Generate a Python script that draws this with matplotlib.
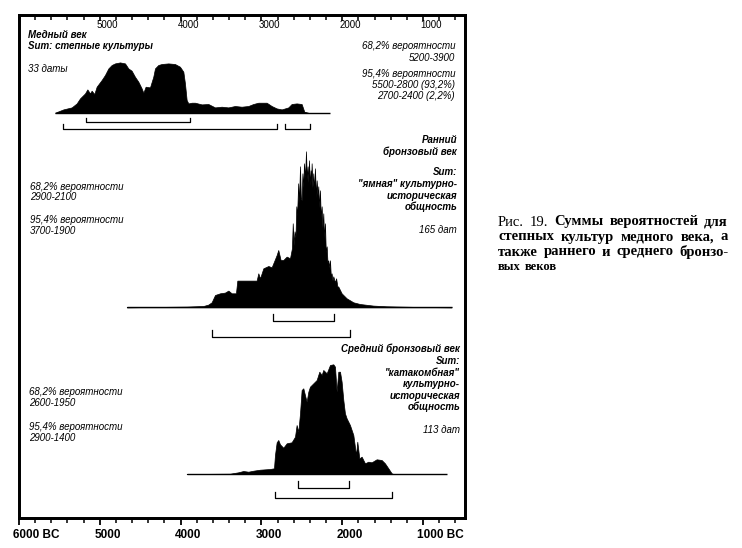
import matplotlib
matplotlib.use('Agg')
import matplotlib.pyplot as plt
from matplotlib.ticker import MultipleLocator
from matplotlib.transforms import ScaledTranslation

# ---------------- data (years BC, relative summed probability) ----------------
cu_years = [5554, 5451, 5348, 5286, 5245, 5183, 5154, 5121, 5101, 5068, 5039, 4977, 4936,
            4894, 4853, 4812, 4750, 4688, 4647, 4606, 4565, 4523, 4482, 4461, 4433, 4379,
            4338, 4317, 4276, 4234, 4152, 4070, 4008, 3966, 3946, 3925, 3904, 3863, 3822,
            3739, 3657, 3574, 3492, 3410, 3327, 3245, 3162, 3100, 3038, 2935, 2873, 2811,
            2749, 2667, 2626, 2564, 2502, 2469, 2420]
cu_prob = [0, 3.3, 5.3, 9.3, 14.3, 19.3, 23.3, 19.3, 22, 18.7, 26, 32.7, 37.7,
           44.3, 47.7, 49.3, 50.3, 49.3, 44.3, 42, 36, 31, 24.3, 20, 26, 25.3,
           36, 44.3, 47.7, 48.7, 49.3, 48.7, 46, 41, 29.3, 12.7, 9.3, 10, 10,
           8.3, 8.7, 5.3, 6, 5.3, 6.7, 6, 6.7, 8.7, 10, 10, 6.7, 4.3,
           3.3, 5.3, 8.7, 9.3, 8.7, 1, 0]
cu_line = [5560, 2150]

eba_years = [4667, 4338, 3925, 3719, 3657, 3616, 3574, 3512, 3451, 3409, 3368, 3315, 3298,
             3059, 3038, 3017, 2976, 2914, 2873, 2844, 2811, 2791, 2762, 2729, 2687, 2646,
             2622, 2612, 2600, 2590, 2578, 2568, 2558, 2545, 2535, 2522, 2512, 2502, 2492,
             2482, 2473, 2460, 2448, 2438, 2428, 2420, 2411, 2400, 2391, 2385, 2378, 2368,
             2358, 2348, 2337, 2325, 2316, 2305, 2296, 2285, 2275, 2265, 2254, 2244, 2234,
             2224, 2213, 2203, 2192, 2182, 2172, 2160, 2151, 2140, 2131, 2120, 2110, 2090,
             2075, 2060, 2048, 2007, 1945, 1862, 1780, 1615, 1450, 1037, 646]
eba_prob = [0, 0.3, 0.7, 1.3, 2.7, 5, 12.3, 14, 14.7, 16.7, 14, 14, 26.7,
            26.7, 34, 29, 39, 41.3, 40, 45.7, 52.3, 57.3, 47.3, 47.3, 50.7, 49,
            59, 84, 62, 76, 70, 101, 92, 124, 105, 141, 110, 107, 134,
            120, 144, 130, 156, 128, 141, 125, 147, 122, 137, 125, 144, 120,
            134, 118, 139, 110, 127, 112, 121, 100, 117, 90, 101, 80, 94,
            70, 84, 55, 61, 45, 47, 40, 47, 30, 34, 27, 31, 25,
            29, 21, 20.7, 14, 9, 5, 3.3, 1.7, 1, 0.3, 0]
eba_line = [4667, 640]

mba_years = [3925, 3389, 3286, 3224, 3162, 3100, 3017, 2894, 2844, 2832, 2811, 2791, 2770,
             2729, 2687, 2626, 2584, 2564, 2543, 2522, 2502, 2481, 2461, 2440, 2419, 2399,
             2357, 2316, 2283, 2254, 2234, 2192, 2151, 2110, 2089, 2069, 2048, 2027, 2007,
             1986, 1966, 1945, 1904, 1862, 1829, 1813, 1788, 1759, 1718, 1677, 1636, 1574,
             1512, 1471, 1429, 1388, 1367]
mba_prob = [0, 0.3, 1.7, 3, 2.3, 3.3, 4.3, 5, 5.7, 19, 31.7, 34, 29.7,
            26.3, 30.7, 31.7, 37.3, 49, 42.3, 60.7, 84, 85.7, 79, 72.3, 82.3, 87.3,
            90.7, 94, 102.3, 99, 104, 100.7, 109, 109.7, 107.3, 82.3, 102.3, 102.3, 92.3,
            74, 60.7, 55.7, 49, 39, 19, 32.3, 15.7, 17.3, 10.7, 12.3, 11.7, 14.7,
            14, 10.7, 5.7, 0.7, 0]
mba_line = [3920, 700]

# highest-probability ranges as drawn (68.2% and 95.4%)
cu_r68 = [(5170, 3880)]
cu_r95 = [(5460, 2805), (2710, 2400)]
eba_r68 = [(2861, 2102)]
eba_r95 = [(3616, 1904)]
mba_r68 = [(2550, 1910)]
mba_r95 = [(2830, 1385)]

bottom_ticks = [6000, 5000, 4000, 3000, 2000, 1000]
bottom_labels = ['6000 BC', '5000', '4000', '3000', '2000', '1000 BC']
top_ticks = [5000, 4000, 3000, 2000, 1000]
top_labels = ['5000', '4000', '3000', '2000', '1000']

# ---------------- figure ----------------
W, H = 742, 548
fig = plt.figure(figsize=(W / 100, H / 100), dpi=100)
fig.patch.set_facecolor('white')
ax = fig.add_axes([19 / W, 1 - 518 / H, 446 / W, 503 / H])
ax.set_xlim(6000, 480)
ax.set_ylim(30, 533)
ax.set_yticks([])

panels = [
    (cu_years, cu_prob, cu_line, cu_r68, cu_r95, 435.3, -9.3, -15.8, 4.5),
    (eba_years, eba_prob, eba_line, eba_r68, eba_r95, 240.7, -13.7, -29.7, 7),
    (mba_years, mba_prob, mba_line, mba_r68, mba_r95, 74.0, -13.7, -24.3, 6.5),
]
for yrs, prob, line, r68, r95, base, off68, off95, tick in panels:
    ax.plot(line, [base, base], color='black', lw=1.0, solid_capstyle='butt')
    ax.fill_between(yrs, base, [base + p for p in prob], color='black', lw=0.5)
    for ranges, off in ((r68, off68), (r95, off95)):
        for a, b in ranges:
            y = base + off
            ax.plot([a, a, b, b], [y + tick, y, y, y + tick], color='black', lw=0.9)

for sp in ax.spines.values():
    sp.set_linewidth(2.0)

# bottom axis
ax.set_xticks(bottom_ticks)
ax.set_xticklabels(bottom_labels, fontsize=8.5, fontweight='bold', family='Liberation Sans')
ax.xaxis.set_minor_locator(MultipleLocator(200))
ax.tick_params(axis='x', which='major', direction='out', length=5, width=1.3, pad=3)
ax.tick_params(axis='x', which='minor', direction='out', length=3.5, width=1.1)
for t in ax.xaxis.get_major_ticks():
    t.label1.set_horizontalalignment('left')
    t.label1.set_transform(t.label1.get_transform() +
                           ScaledTranslation(-5.5 / 100, 0, fig.dpi_scale_trans))

# top axis (ticks and labels inside the frame)
ax2 = ax.twiny()
ax2.set_xlim(6000, 480)
ax2.set_xticks(top_ticks)
ax2.set_xticklabels(top_labels, fontsize=7, family='Liberation Sans')
ax2.xaxis.set_minor_locator(MultipleLocator(200))
ax2.tick_params(axis='x', which='major', direction='in', length=4, width=1.2, pad=-10.5)
ax2.tick_params(axis='x', which='minor', direction='in', length=3.5, width=1.1)
for sp in ax2.spines.values():
    sp.set_linewidth(2.0)
for t in ax2.xaxis.get_major_ticks():
    t.label2.set_horizontalalignment('left')
    t.label2.set_transform(t.label2.get_transform() +
                           ScaledTranslation(-3 / 100, 0, fig.dpi_scale_trans))


def txt(x, y, s, ha='left', bold=False, size=7):
    fig.text(x / W, 1 - y / H, s, ha=ha, va='center', fontsize=size,
             family='Liberation Sans', style='italic',
             fontweight='bold' if bold else 'normal')


# panel 1 texts
txt(28, 35, 'Медный век', bold=True)
txt(28, 46, 'Sum: степные культуры', bold=True)
txt(28, 69, '33 даты')
for y, s in [(46, '68,2% вероятности'), (58, '5200-3900'), (74, '95,4% вероятности'),
             (85, '5500-2800 (93,2%)'), (96, '2700-2400 (2,2%)')]:
    txt(455, y, s, ha='right')

# panel 2 texts
for y, s in [(140, 'Ранний'), (152, 'бронзовый век'), (172, 'Sum:'),
             (184, '"ямная" культурно-'), (196, 'историческая'), (207, 'общность')]:
    txt(457, y, s, ha='right', bold=True)
txt(457, 230, '165 дат', ha='right')
for y, s in [(187, '68,2% вероятности'), (197, '2900-2100'),
             (220, '95,4% вероятности'), (231, '3700-1900')]:
    txt(30, y, s)

# panel 3 texts
for y, s in [(349, 'Средний бронзовый век'), (361, 'Sum:'), (373, '"катакомбная"'),
             (384, 'культурно-'), (396, 'историческая'), (407, 'общность')]:
    txt(460, y, s, ha='right', bold=True)
txt(460, 430, '113 дат', ha='right')
for y, s in [(392, '68,2% вероятности'), (403, '2600-1950'),
             (427, '95,4% вероятности'), (438, '2900-1400')]:
    txt(29, y, s)

# caption (justified)
caption = [
    (222, ['Рис.', '19.', 'Суммы', 'вероятностей', 'для'], True, 10.5),
    (237, ['степных', 'культур', 'медного', 'века,', 'а'], True, 10.5),
    (252, ['также', 'раннего', 'и', 'среднего', 'бронзо-'], True, 10.5),
    (267, ['вых', 'веков'], False, 9),
]
renderer = fig.canvas.get_renderer()
x0, x1 = 498, 728
for y, words, justify, size in caption:
    objs = []
    for w in words:
        weight = 'normal' if w in ('Рис.', '19.') else 'bold'
        t = fig.text(0, 1 - y / H, w, fontsize=size, family='Liberation Serif',
                     fontweight=weight, va='center', ha='left')
        objs.append(t)
    widths = [o.get_window_extent(renderer).width for o in objs]
    if justify and len(objs) > 1:
        gap = (x1 - x0 - sum(widths)) / (len(objs) - 1)
    else:
        gap = 4
    x = x0
    for o, wd in zip(objs, widths):
        o.set_x(x / W)
        x += wd + gap

fig.savefig('out.png', dpi=100, facecolor='white')
